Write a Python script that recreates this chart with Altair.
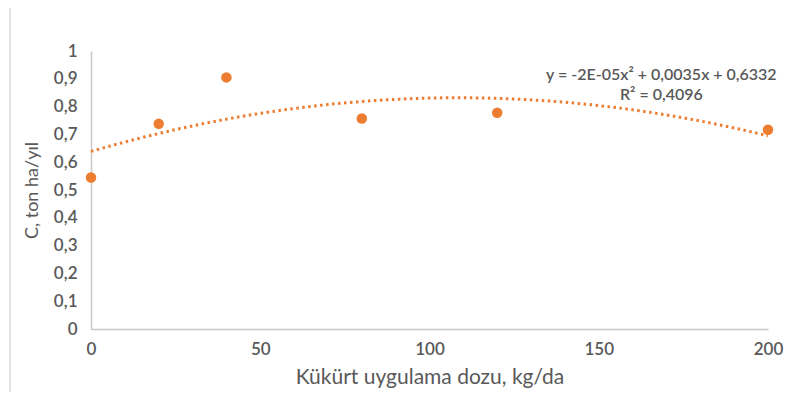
import altair as alt
import pandas as pd

doses = [0, 20, 40, 80, 120, 200]
values = [0.545, 0.738, 0.905, 0.757, 0.778, 0.717]

x_ticks = [0, 50, 100, 150, 200]
y_ticks = [0, 0.1, 0.2, 0.3, 0.4, 0.5, 0.6, 0.7, 0.8, 0.9, 1]

eq_lines = ["y = -2E-05x² + 0,0035x + 0,6332", "R² = 0,4096"]
eq_x = [168.5, 168.5]
eq_y = [0.912, 0.84]

df = pd.DataFrame({"doz": doses, "c": values})
ann = pd.DataFrame({"t": eq_lines, "x": eq_x, "y": eq_y})

ORANGE = "#ED7D31"
FONT = "Lato"
LABEL = "#595959"

xscale = alt.Scale(domain=[0, 200], nice=False, zero=False)
yscale = alt.Scale(domain=[0, 1], nice=False)

xaxis = alt.Axis(values=x_ticks, title="Kükürt uygulama dozu, kg/da",
                 labelPadding=12, titlePadding=9, ticks=False, grid=False,
                 labelFlush=False, labelOverlap=False, titleFontSize=21,
                 domainColor="#c8c8c8", domainWidth=1.5)
yaxis = alt.Axis(values=y_ticks,
                 labelExpr="replace(format(datum.value, '.1~f'), '.', ',')",
                 title="C, ton ha/yıl", labelPadding=14, titlePadding=12,
                 labelFlush=False, labelOverlap=False, titleFontSize=18,
                 ticks=False, grid=False, domainColor="#c8c8c8", domainWidth=1.5)

base = alt.Chart(df)

trend = base.transform_regression(
    "doz", "c", method="poly", order=2, extent=[0, 200]
).mark_line(color=ORANGE, strokeWidth=3, strokeDash=[2.5, 3.5], strokeCap="butt").encode(
    x=alt.X("doz:Q", scale=xscale, axis=xaxis),
    y=alt.Y("c:Q", scale=yscale, axis=yaxis),
)

pts = base.mark_circle(color=ORANGE, size=110, opacity=1).encode(
    x=alt.X("doz:Q", scale=xscale, axis=xaxis),
    y=alt.Y("c:Q", scale=yscale, axis=yaxis),
)

text = alt.Chart(ann).mark_text(font=FONT, fontSize=16, color=LABEL, align="center",
                                fontWeight=600).encode(
    x=alt.X("x:Q", scale=xscale, axis=xaxis),
    y=alt.Y("y:Q", scale=yscale, axis=yaxis),
    text="t:N",
)

frame = alt.Chart(pd.DataFrame({"a": [0]})).mark_rule(color="#d9d9d9", strokeWidth=1.5).encode(
    x=alt.value(-81), y=alt.value(-45), y2=alt.value(400)
)

chart = alt.layer(frame, trend, pts, text).properties(
    width=677, height=278,
    autosize=alt.AutoSizeParams(type="none"),
    padding={"left": 83, "top": 43, "right": 26, "bottom": 63},
).configure_view(stroke=None).configure_axis(
    labelFont=FONT, titleFont=FONT, labelFontSize=17,
    labelColor=LABEL, titleColor=LABEL, titleFontWeight="normal", labelFontWeight=600,
)

chart.save("out.html", embed_options={"renderer": "svg", "actions": False})
